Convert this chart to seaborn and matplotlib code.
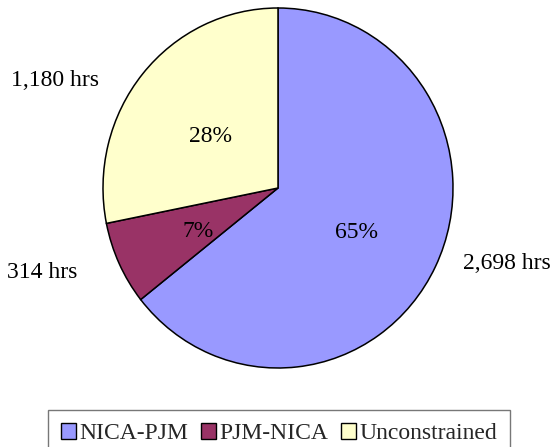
import matplotlib
matplotlib.use("Agg")
import matplotlib.pyplot as plt
from matplotlib.patches import Patch
import numpy as np
import seaborn as sns

# Hours by constraint direction
categories = ["NICA-PJM", "PJM-NICA", "Unconstrained"]
hours = [2698, 314, 1180]
hour_labels = ["2,698 hrs", "314 hrs", "1,180 hrs"]
pct_labels = ["65%", "7%", "28%"]
colors = ["#9999FF", "#993366", "#FFFFCC"]

sns.set_style("white")
plt.rcParams["font.family"] = ["Liberation Serif", "DejaVu Serif"]

W, H = 557, 447
fig = plt.figure(figsize=(W / 100, H / 100), dpi=100)

# pie area in pixels: x 103..453, y 8..368
ax = fig.add_axes([103 / W, (H - 368) / H, 350 / W, 360 / H])
wedges, _ = ax.pie(
    hours,
    colors=colors,
    startangle=90,
    counterclock=False,
    radius=1.0,
    wedgeprops=dict(edgecolor="black", linewidth=1.1),
)
ax.set_xlim(-1, 1)
ax.set_ylim(-1, 1)
ax.set_aspect("auto")
ax.axis("off")

fs = 17
for w, lab in zip(wedges, pct_labels):
    mid = np.deg2rad((w.theta1 + w.theta2) / 2)
    ax.text(0.5 * np.cos(mid), 0.5 * np.sin(mid) - 0.03, lab, ha="center",
            va="center", fontsize=fs, color="black")

# outside hour labels
hour_pos = [(1.309, -0.42), (-1.349, -0.47), (-1.274, 0.60)]
for (x, y), lab in zip(hour_pos, hour_labels):
    ax.text(x, y, lab, ha="center", va="center", fontsize=fs, color="black",
            clip_on=False)

handles = [Patch(facecolor=c, edgecolor="black", linewidth=1.0) for c in colors]
leg = fig.legend(
    handles, categories,
    loc="upper left",
    bbox_to_anchor=(48 / W, 1 - 410 / H),
    ncol=3,
    frameon=True,
    fancybox=False,
    fontsize=fs,
    handlelength=0.65,
    handleheight=0.65,
    handletextpad=0.12,
    columnspacing=0.55,
    borderpad=0.55,
    borderaxespad=0,
)
leg.get_frame().set_edgecolor("#555555")
leg.get_frame().set_linewidth(1.0)

fig.savefig("out.png", dpi=100)
